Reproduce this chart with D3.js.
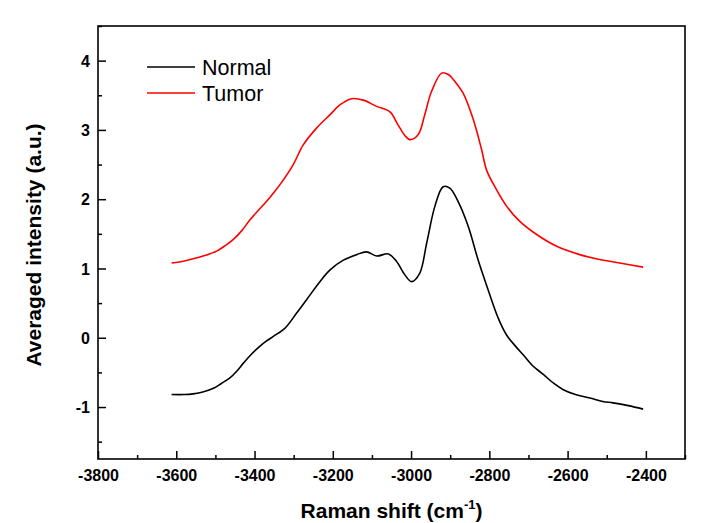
<!DOCTYPE html>
<html><head><meta charset="utf-8">
<script src="https://cdn.jsdelivr.net/npm/d3@7"></script>
<style>
html,body{margin:0;padding:0;background:#fff;}
svg{display:block;font-family:"Liberation Sans",Arial,sans-serif;}
</style></head>
<body><svg id="c" width="706" height="523"></svg>
<script>
// ---- data ----
const seriesNames = ["Normal", "Tumor"];
const seriesColors = ["#000000", "#ff0000"];
const normalX = [-3612,-3580,-3557,-3530,-3505,-3485,-3463,-3445,-3429,-3405,-3386,-3370,-3352,-3322,-3292,-3267,-3233,-3207,-3173,-3139,-3114,-3088,-3058,-3037,-3016,-2999,-2978,-2960,-2939,-2918,-2901,-2880,-2854,-2829,-2803,-2777,-2756,-2735,-2713,-2690,-2662,-2635,-2611,-2580,-2543,-2510,-2484,-2445,-2407];
const normalY = [-0.82,-0.82,-0.81,-0.78,-0.73,-0.66,-0.58,-0.48,-0.37,-0.22,-0.12,-0.05,0.02,0.14,0.36,0.55,0.81,0.98,1.12,1.20,1.24,1.18,1.21,1.10,0.91,0.81,0.93,1.37,1.90,2.18,2.16,1.97,1.61,1.13,0.69,0.28,0.04,-0.11,-0.25,-0.40,-0.53,-0.66,-0.75,-0.82,-0.87,-0.92,-0.94,-0.98,-1.03];
const tumorX = [-3612,-3585,-3557,-3525,-3497,-3475,-3454,-3432,-3412,-3390,-3369,-3350,-3335,-3301,-3276,-3241,-3207,-3182,-3152,-3122,-3088,-3054,-3033,-3016,-3003,-2982,-2965,-2948,-2922,-2905,-2888,-2867,-2841,-2820,-2807,-2786,-2756,-2722,-2679,-2628,-2569,-2518,-2467,-2407];
const tumorY = [1.08,1.10,1.14,1.19,1.25,1.33,1.42,1.55,1.70,1.84,1.97,2.10,2.21,2.50,2.78,3.03,3.22,3.36,3.45,3.43,3.34,3.26,3.07,2.92,2.86,2.93,3.22,3.55,3.82,3.80,3.70,3.53,3.15,2.72,2.42,2.18,1.90,1.68,1.49,1.32,1.20,1.13,1.08,1.02];
const xMajorTicks = [-3800,-3600,-3400,-3200,-3000,-2800,-2600,-2400];
const xMinorTicks = [-3700,-3500,-3300,-3100,-2900,-2700,-2500,-2300];
const yMajorTicks = [-1,0,1,2,3,4];
const yMinorTicks = [-1.5,-0.5,0.5,1.5,2.5,3.5,4.5];
const xDomain = [-3800,-2300];
const yDomain = [-1.75,4.5];
const xTitle = "Raman shift (cm";
const yTitle = "Averaged intensity (a.u.)";

// ---- layout ----
const m = {left:98, top:26, right:685, bottom:459};
const svg = d3.select("#c");
const x = d3.scaleLinear().domain(xDomain).range([m.left, m.right]);
const y = d3.scaleLinear().domain(yDomain).range([m.bottom, m.top]);

const line = d3.line().x(d=>x(d[0])).y(d=>y(d[1])).curve(d3.curveCatmullRom.alpha(0.5));
const series = [
  d3.zip(normalX, normalY),
  d3.zip(tumorX, tumorY)
];
series.forEach((s,i)=>{
  svg.append("path").datum(s).attr("d", line)
    .attr("fill","none").attr("stroke", seriesColors[i]).attr("stroke-width",1.6)
    .attr("stroke-linejoin","round");
});

const fmt = d => String(d);
// axes
const axB = svg.append("g").attr("transform",`translate(0,${m.bottom})`)
  .call(d3.axisBottom(x).tickValues(xMajorTicks).tickSize(-8).tickPadding(11).tickFormat(fmt));
svg.append("g").attr("transform",`translate(0,${m.bottom})`)
  .call(d3.axisBottom(x).tickValues(xMinorTicks).tickSize(-4).tickFormat(""));
const axL = svg.append("g").attr("transform",`translate(${m.left},0)`)
  .call(d3.axisLeft(y).tickValues(yMajorTicks).tickSize(-8).tickPadding(8).tickFormat(fmt));
svg.append("g").attr("transform",`translate(${m.left},0)`)
  .call(d3.axisLeft(y).tickValues(yMinorTicks).tickSize(-4).tickFormat(""));
svg.selectAll(".domain").remove();
svg.selectAll(".tick line").attr("stroke","#000").attr("stroke-width",1.5);
[axB, axL].forEach(a=>a.selectAll("text")
  .attr("font-family","'Liberation Sans',Arial,sans-serif")
  .attr("font-size",16).attr("font-weight","bold").attr("fill","#000"));
axL.selectAll("text").attr("dy","0.36em");

svg.append("rect").attr("x",m.left).attr("y",m.top)
  .attr("width",m.right-m.left).attr("height",m.bottom-m.top)
  .attr("fill","none").attr("stroke","#000").attr("stroke-width",1.6);

// titles
const xt = svg.append("text").attr("x",(m.left+m.right)/2).attr("y",518)
  .attr("text-anchor","middle").attr("font-size",21).attr("font-weight","bold");
xt.append("tspan").text(xTitle);
xt.append("tspan").attr("font-size",13).attr("dy",-9).text("-1");
xt.append("tspan").attr("dy",9).text(")");

svg.append("text").attr("transform","translate(41,245) rotate(-90)")
  .attr("text-anchor","middle").attr("font-size",21).attr("font-weight","bold").text(yTitle);

// legend
const lg = svg.append("g");
seriesNames.forEach((n,i)=>{
  const yy = 67 + i*26;
  lg.append("line").attr("x1",147).attr("x2",195).attr("y1",yy).attr("y2",yy)
    .attr("stroke",seriesColors[i]).attr("stroke-width",1.6);
  lg.append("text").attr("x",202).attr("y",yy).attr("dy","0.36em")
    .attr("font-size",21.5).text(n);
});
</script></body></html>
